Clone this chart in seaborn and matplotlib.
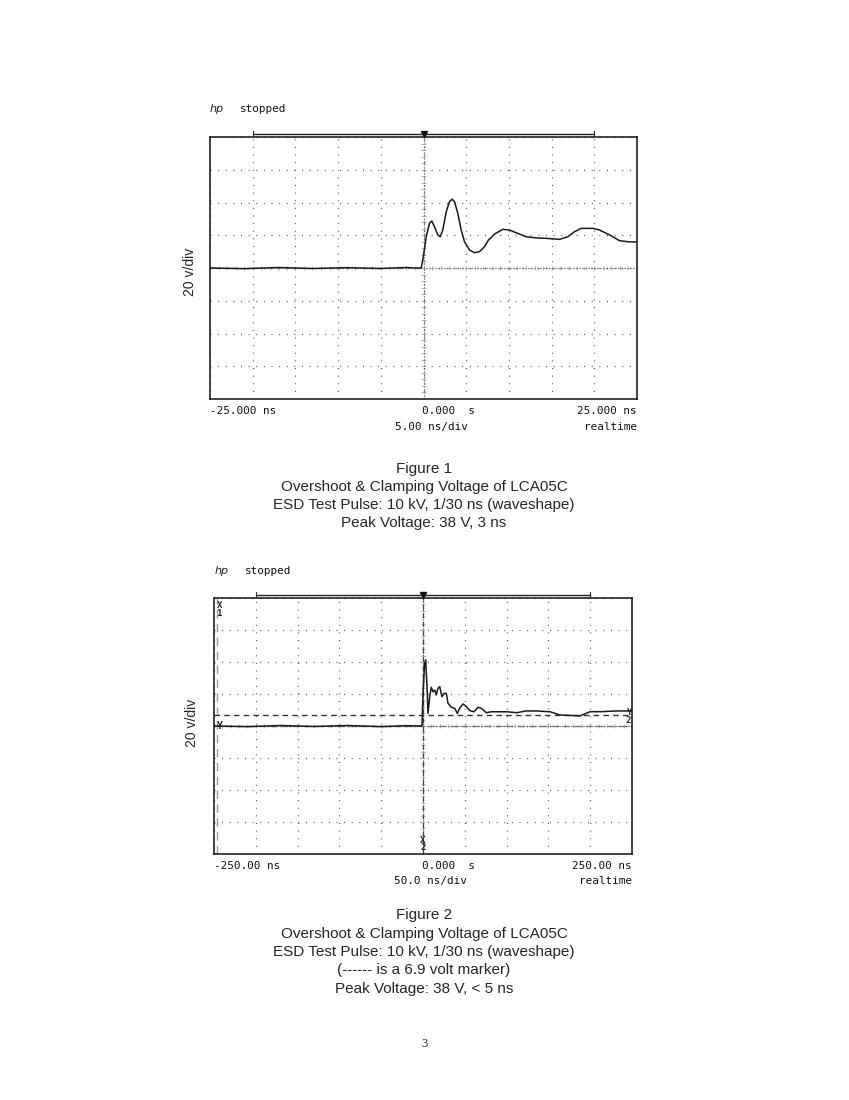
import numpy as np
import pandas as pd
import matplotlib
matplotlib.use("Agg")
import matplotlib.pyplot as plt
import seaborn as sns

# ---------------- data ----------------
fig1_time = [-25.0, -21.0, -17.0, -13.0, -9.0, -5.0, -2.0, -1.05, -0.27, -0.08, 0.32, 0.70, 0.97,
             1.29, 1.67, 1.96, 2.26, 2.66, 3.04, 3.36, 3.63, 4.02, 4.41, 4.80, 5.39, 5.97,
             6.56, 7.14, 7.61, 8.4, 9.29, 10.07, 11.0, 12.03, 13.2, 14.37, 15.93, 16.9,
             17.7, 18.47, 19.82, 20.6, 21.8, 22.95, 24.0, 24.9]
fig1_volts = [0.0, -0.4, 0.3, -0.3, 0.2, -0.3, 0.3, 0.0, 0.0, 4.9, 19.1, 27.3, 28.7,
              25.2, 20.2, 19.1, 23.2, 34.4, 40.5, 42.0, 40.5, 33.4, 23.2, 16.1, 11.0, 9.3,
              10.0, 13.0, 17.1, 21.0, 23.6, 23.2, 21.2, 19.1, 18.4, 18.1, 17.5, 19.1,
              22.2, 24.2, 24.2, 23.2, 20.2, 16.7, 16.0, 15.9]

fig2_time = [-250.0, -210.0, -170.0, -130.0, -90.0, -50.0, -20.0, -1.2, 0.0, 2.0, 3.2, 4.8,
             6.0, 8.0, 9.9, 12.0, 14.0, 15.9, 17.9, 20.0, 22.7, 25.1, 27.9, 29.9, 33.8,
             37.9, 41.0, 43.9, 47.8, 51.8, 55.9, 61.0, 65.8, 69.7, 75.7, 81.7, 100.1,
             112.1, 123.0, 136.0, 151.9, 163.9, 187.8, 199.8, 215.0, 231.7, 249.6]
fig2_volts = [0.0, -0.4, 0.3, -0.3, 0.3, -0.4, 0.2, 0.0, 20.4, 39.2, 41.3, 24.6,
              7.9, 18.3, 24.2, 21.4, 22.5, 19.4, 23.6, 24.6, 18.3, 20.4, 20.4, 14.2, 11.7,
              11.1, 7.9, 11.1, 13.8, 12.1, 9.6, 8.9, 11.7, 11.1, 8.3, 8.9, 8.9,
              8.3, 9.4, 9.4, 8.9, 6.9, 6.3, 8.9, 9.0, 9.4, 9.4]

marker_volts = 6.9

fig1_xlabels = ["-25.000 ns", "0.000  s", "25.000 ns", "5.00 ns/div", "realtime"]
fig2_xlabels = ["-250.00 ns", "0.000  s", "250.00 ns", "50.0 ns/div", "realtime"]
y_label = "20 v/div"

caption1 = ["Figure 1",
            "Overshoot & Clamping Voltage of LCA05C",
            "ESD Test Pulse: 10 kV, 1/30 ns (waveshape)",
            "Peak Voltage: 38 V, 3 ns"]
caption2 = ["Figure 2",
            "Overshoot & Clamping Voltage of LCA05C",
            "ESD Test Pulse: 10 kV, 1/30 ns (waveshape)",
            "(------ is a 6.9 volt marker)",
            "Peak Voltage: 38 V, < 5 ns"]

# ---------------- style ----------------
sns.set_style("white")
plt.rcParams['font.family'] = ['Liberation Sans', 'DejaVu Sans']

W, H = 849, 1100
fig = plt.figure(figsize=(W / 100, H / 100), dpi=100)
fig.patch.set_facecolor("white")

MONO = "DejaVu Sans Mono"
MONO_SIZE = 7.9
TRACE = "#1a1a1a"
GRID = "#555555"


def scope_axes(rect, half_t, volts, times, xlabels, bracket):
    ax = fig.add_axes(rect)
    ax.set_xlim(-half_t, half_t)
    ax.set_ylim(-80, 80)
    div_t = half_t / 5.0
    ax.set_xticks(np.arange(-half_t, half_t + 1e-9, div_t))
    ax.set_yticks(np.arange(-80, 81, 20))
    ax.tick_params(length=0, labelbottom=False, labelleft=False)
    ax.grid(True, color=GRID, linestyle=(0, (0.8, 5.3)), linewidth=0.9)
    for s in ax.spines.values():
        s.set_color("#111111")
        s.set_linewidth(1.1)
    # centre graticule lines: dense dots with minor ticks
    ax.axvline(0, color="#333333", linestyle=(0, (0.8, 1.6)), linewidth=0.9, zorder=1)
    ax.axhline(0, color="#333333", linestyle=(0, (0.8, 1.6)), linewidth=0.9, zorder=1)
    t_minor = np.arange(-half_t, half_t + 1e-9, div_t / 5)
    v_minor = np.arange(-80, 81, 4)
    ax.vlines(t_minor, -1.0, 1.0, color="#999999", linewidth=0.5, zorder=1)
    ax.hlines(v_minor, -div_t * 0.05, div_t * 0.05, color="#999999", linewidth=0.5, zorder=1)

    df = pd.DataFrame({"t": times, "v": volts})
    sns.lineplot(data=df, x="t", y="v", ax=ax, color=TRACE, linewidth=1.1,
                 estimator=None, sort=False, zorder=5)
    ax.set_xlabel("")
    ax.set_ylabel("")

    # top bracket
    yb = 82.0
    ax.plot([-bracket, bracket], [yb, yb], color="#222222", lw=1.0, clip_on=False)
    ax.plot([-bracket, -bracket], [yb - 1.5, yb + 1.5], color="#222222", lw=0.8, clip_on=False)
    ax.plot([bracket, bracket], [yb - 1.5, yb + 1.5], color="#222222", lw=0.8, clip_on=False)
    ax.plot([0], [yb], marker="v", color="#111111", markersize=4.5, clip_on=False)

    # labels below
    tr = ax.get_xaxis_transform()
    kw = dict(transform=tr, va="center", family=MONO, fontsize=MONO_SIZE, color="#111111")
    ax.text(-half_t, -0.045, xlabels[0], ha="left", **kw)
    ax.text(-half_t * 0.005, -0.045, xlabels[1], ha="left", **kw)
    ax.text(half_t, -0.045, xlabels[2], ha="right", **kw)
    ax.text(half_t * 0.037, -0.105, xlabels[3], ha="center", **kw)
    ax.text(half_t, -0.105, xlabels[4], ha="right", **kw)
    return ax


ax1 = scope_axes([210 / W, 1 - 399 / H, 427 / W, 262 / H], 25.0, fig1_volts, fig1_time,
                 fig1_xlabels, 20.0)
ax2 = scope_axes([214 / W, 1 - 854 / H, 418 / W, 256 / H], 250.0, fig2_volts, fig2_time,
                 fig2_xlabels, 200.0)

# Figure 2 cursors
ax2.axhline(marker_volts, color="#333333", linestyle=(0, (4, 3)), linewidth=1.0, zorder=3)
ax2.axhline(0, color="#777777", linestyle=(0, (5, 4)), linewidth=0.9, zorder=2)
ax2.axvline(-246, color="#999999", linestyle=(0, (6, 4)), linewidth=1.0, zorder=2)
ax2.axvline(0, color="#444444", linestyle=(0, (4, 3)), linewidth=0.9, zorder=2)
ax2.text(-247, 78, "X\n1", ha="left", va="top", fontsize=6.5, fontweight="bold",
         family=MONO, linespacing=0.8)
ax2.text(0, -79, "X\n2", ha="center", va="bottom", fontsize=6.5, fontweight="bold",
         family=MONO, linespacing=0.8)
ax2.text(-247, 0, "Y", ha="left", va="center", fontsize=7, fontweight="bold", family=MONO)
ax2.text(249, marker_volts - 1, "Y\n2", ha="right", va="center", fontsize=6.5,
         fontweight="bold", family=MONO, linespacing=0.8)

# y-axis labels
fig.text(190 / W, 1 - 272 / H, y_label, rotation=90, ha="center", va="center", fontsize=10)
fig.text(192 / W, 1 - 723 / H, y_label, rotation=90, ha="center", va="center", fontsize=10)

# hp stopped headers
for (x, y) in [(210, 109), (215, 571)]:
    fig.text(x / W, 1 - y / H, "hp", ha="left", va="center", fontsize=8, style="italic",
             family="DejaVu Sans", color="#222222")
    fig.text((x + 30) / W, 1 - y / H, "stopped", ha="left", va="center", fontsize=MONO_SIZE,
             family=MONO, color="#111111")

# captions
for i, line in enumerate(caption1):
    fig.text(424 / W, 1 - (468.5 + i * 18.3) / H, line, ha="center", va="center", fontsize=11)
for i, line in enumerate(caption2):
    fig.text(424 / W, 1 - (915.5 + i * 18.3) / H, line, ha="center", va="center", fontsize=11)

fig.text(424 / W, 1 - 1044 / H, "3", ha="center", va="center", fontsize=9,
         family="Liberation Serif")

fig.savefig("out.png", dpi=100, facecolor="white")
